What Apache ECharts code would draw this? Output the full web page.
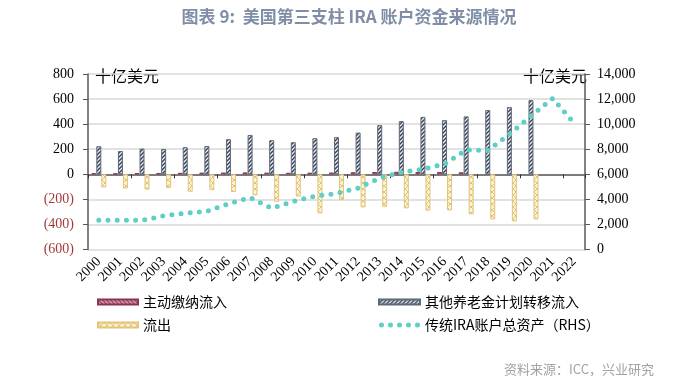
<!DOCTYPE html>
<html>
<head>
<meta charset="utf-8">
<script src="https://cdn.jsdelivr.net/npm/echarts@6/dist/echarts.min.js"></script>
<style>
html,body{margin:0;padding:0;background:#fff;}
#chart{width:699px;height:382px;}
</style>
</head>
<body>
<div id="chart"></div>
<script>
const years = ['2000','2001','2002','2003','2004','2005','2006','2007','2008','2009','2010','2011','2012','2013','2014','2015','2016','2017','2018','2019','2020','2021','2022'];
const activeInflow = [8,7,10,10,12,13,14,15,13,12,13,14,16,18,20,18,18,16,null,null,null,null,null];
const otherInflow = [224,186,205,202,216,226,280,314,272,256,288,296,333,392,424,458,432,462,512,536,592,null,null];
const outflow = [-105,-113,-122,-110,-139,-127,-141,-168,-220,-177,-312,-206,-264,-259,-272,-290,-288,-320,-360,-376,-360,null,null];
const iraAssets = [2340,2340,2320,2680,2900,3050,3650,4140,3300,3840,4260,4470,4900,5700,6180,6400,6820,7950,7900,9200,10650,12050,10080];
const leftTicks = {min:-600, max:800, interval:200};
const rightTicks = {min:0, max:14000, interval:2000};
const seriesNames = ['主动缴纳流入','其他养老金计划转移流入','流出','传统IRA账户总资产（RHS）'];
const titleText = '图表 9:  美国第三支柱 IRA 账户资金来源情况';
const unitText = '十亿美元';
const sourceText = '资料来源：ICC，兴业研究';

function pattern(w, h, bg, fg, lw, draw) {
  const c = document.createElement('canvas');
  c.width = w; c.height = h;
  const ctx = c.getContext('2d');
  ctx.fillStyle = bg; ctx.fillRect(0, 0, w, h);
  ctx.strokeStyle = fg; ctx.lineWidth = lw;
  draw(ctx, w, h);
  return {image: c, repeat: 'repeat'};
}
const fwd = (ctx, w, h) => {
  ctx.beginPath();
  ctx.moveTo(-1, h + 1); ctx.lineTo(w + 1, -1);
  ctx.moveTo(-1, 1); ctx.lineTo(1, -1);
  ctx.moveTo(w - 1, h + 1); ctx.lineTo(w + 1, h - 1);
  ctx.stroke();
};
const back = (ctx, w, h) => {
  ctx.beginPath();
  ctx.moveTo(-1, -1); ctx.lineTo(w + 1, h + 1);
  ctx.moveTo(w - 1, -1); ctx.lineTo(w + 1, 1);
  ctx.moveTo(-1, h - 1); ctx.lineTo(1, h + 1);
  ctx.stroke();
};
const cross = (ctx, w, h) => { fwd(ctx, w, h); back(ctx, w, h); };

const redPat = pattern(4, 4, '#eab3c2', '#8e2f50', 1.3, back);
const bluePat = pattern(4, 4, '#eef3f8', '#3b4454', 1.5, fwd);
const orangePat = pattern(6, 6, '#fdf4d2', '#d6b56a', 0.8, cross);

// five-dot legend glyph for the dotted line
let dotsPath = 'path://';
[2.5, 11.5, 20.5, 29.5, 38.5].forEach(cx => {
  dotsPath += 'M' + (cx - 2.5) + ',2.5a2.5,2.5 0 1,0 5,0a2.5,2.5 0 1,0 -5,0Z';
});

const chart = echarts.init(document.getElementById('chart'), null, {renderer: 'canvas'});
const serif = 'Liberation Serif';
const cjk = 'Noto Sans CJK SC';
const teal = '#5fcfc6';

chart.setOption({
  animation: false,
  backgroundColor: '#fff',
  grid: {left: 88, right: 114, top: 74, bottom: 132.5, containLabel: false},
  legend: [
    {
      data: [{name: seriesNames[0], icon: 'rect'}, {name: seriesNames[2], icon: 'rect'}],
      orient: 'vertical', left: 92, top: 290, itemWidth: 40, itemHeight: 5, itemGap: 9,
      textStyle: {fontFamily: cjk, fontSize: 14, color: '#000'}
    },
    {
      data: [{name: seriesNames[1], icon: 'rect'}, {name: seriesNames[3], icon: dotsPath, itemStyle: {color: teal, borderWidth: 0}}],
      orient: 'vertical', left: 373, top: 290, itemWidth: 41, itemHeight: 5, itemGap: 9,
      textStyle: {fontFamily: cjk, fontSize: 14, color: '#000'}
    }
  ],
  xAxis: [
    {
      type: 'category', data: years, position: 'bottom',
      axisLine: {show: false, onZero: false}, axisTick: {show: false}, splitLine: {show: false},
      axisLabel: {rotate: 45, margin: 10, fontFamily: serif, fontSize: 14, color: '#000', interval: 0}
    },
    {
      type: 'category', data: years, position: 'top',
      axisLine: {show: true, onZero: true, lineStyle: {color: '#595959', width: 1.5}},
      axisTick: {show: true, inside: true, length: 4, lineStyle: {color: '#333', width: 1}},
      axisLabel: {show: false}, splitLine: {show: false}
    }
  ],
  yAxis: [
    {
      type: 'value', position: 'left', min: leftTicks.min, max: leftTicks.max, interval: leftTicks.interval,
      axisLine: {show: true, lineStyle: {color: '#595959', width: 1.5}},
      axisTick: {show: true, length: 5, lineStyle: {color: '#595959'}},
      splitLine: {show: true, lineStyle: {color: '#d9d9d9', width: 1.5}},
      axisLabel: {
        margin: 14, fontFamily: serif, fontSize: 14,
        color: v => (v < 0 ? '#a33a3a' : '#000'),
        formatter: v => (v < 0 ? '(' + Math.abs(v) + ')' : String(v))
      }
    },
    {
      type: 'value', position: 'right', min: rightTicks.min, max: rightTicks.max, interval: rightTicks.interval,
      axisLine: {show: true, lineStyle: {color: '#595959', width: 1.5}},
      axisTick: {show: true, length: 5, lineStyle: {color: '#595959'}},
      splitLine: {show: false},
      axisLabel: {
        margin: 12, fontFamily: serif, fontSize: 14, color: '#000',
        formatter: v => v.toLocaleString('en-US')
      }
    }
  ],
  series: [
    {
      name: seriesNames[0], type: 'bar', data: activeInflow, xAxisIndex: 0, yAxisIndex: 0,
      barWidth: 5, barGap: '0%',
      itemStyle: {color: redPat, borderColor: '#8a3550', borderWidth: 1}
    },
    {
      name: seriesNames[1], type: 'bar', data: otherInflow, xAxisIndex: 0, yAxisIndex: 0,
      barWidth: 5, barGap: '0%',
      itemStyle: {color: bluePat, borderColor: '#5d6878', borderWidth: 1}
    },
    {
      name: seriesNames[2], type: 'bar', data: outflow, xAxisIndex: 0, yAxisIndex: 0,
      barWidth: 5, barGap: '0%',
      itemStyle: {color: orangePat, borderColor: '#e3c47a', borderWidth: 1}
    },
    {
      name: seriesNames[3], type: 'line', data: iraAssets, xAxisIndex: 0, yAxisIndex: 1,
      symbol: 'none', smooth: false,
      itemStyle: {color: teal},
      lineStyle: {color: teal, width: 5, type: [0, 9.2], cap: 'round'}
    }
  ],
  graphic: [
    {type: 'text', x: 349, y: 17, style: {text: titleText, align: 'center', verticalAlign: 'middle', font: 'bold 17px "Noto Sans CJK SC"', fill: '#7f8ea6'}},
    {type: 'text', x: 95, y: 76, style: {text: unitText, align: 'left', verticalAlign: 'middle', font: '16px "Noto Sans CJK SC"', fill: '#000'}},
    {type: 'text', x: 587, y: 76, style: {text: unitText, align: 'right', verticalAlign: 'middle', font: '16px "Noto Sans CJK SC"', fill: '#000'}},
    {type: 'text', x: 654, y: 369, style: {text: sourceText, align: 'right', verticalAlign: 'middle', font: '13px "Noto Sans CJK SC"', fill: '#a3a3a3'}}
  ]
});
</script>
</body>
</html>
